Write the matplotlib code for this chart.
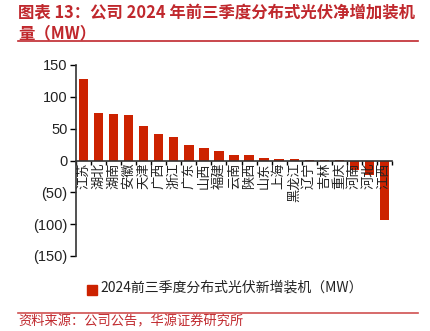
import matplotlib.pyplot as plt
import numpy as np

plt.rcParams['font.family'] = ['Noto Sans CJK SC', 'DejaVu Sans']

provinces = ['江苏', '湖北', '湖南', '安徽', '天津', '广西', '浙江', '广东', '山西', '福建',
             '云南', '陕西', '山东', '上海', '黑龙江', '辽宁', '吉林', '重庆', '河南', '河北', '江西']
values = [128, 75, 73, 72, 54, 42, 37, 24, 19, 15,
          9, 8, 4, 3, 2, 1.5, 1.5, 1.5, -15, -22, -93]
yticks = [150, 100, 50, 0, -50, -100, -150]
ytick_labels = ['150', '100', '50', '0', '(50)', '(100)', '(150)']

red = '#CC2200'
title_red = '#C0282D'

fig = plt.figure(figsize=(4.31, 3.31), dpi=100)
ax = fig.add_axes([76/431, 1-256/331, 316/431, 191/331])

x = np.arange(len(provinces))
ax.bar(x, values, width=0.62, color=red, zorder=2)

ax.set_xlim(-0.5, len(provinces) - 0.5)
ax.set_ylim(-150, 150)
ax.set_yticks(yticks)
ax.set_yticklabels(ytick_labels, fontsize=10.5, color='#222222', family=['Liberation Sans', 'DejaVu Sans'])
ax.tick_params(axis='y', direction='out', length=4, width=1, pad=2)

for s in ['top', 'right']:
    ax.spines[s].set_visible(False)
ax.spines['bottom'].set_position(('data', 0))
ax.spines['left'].set_color('#333333')
ax.spines['bottom'].set_color('#333333')
ax.spines['left'].set_linewidth(1.2)
ax.spines['bottom'].set_linewidth(1.2)

ax.set_xticks(np.arange(len(provinces) + 1) - 0.5)
ax.set_xticklabels([])
ax.tick_params(axis='x', direction='out', length=3, width=1)
for xi, name in zip(x, provinces):
    ax.text(xi, -3, name, rotation=90, ha='center', va='top', fontsize=9.5,
            color='#222222', zorder=3)

# legend
fig.patches.append(plt.Rectangle((87/431, 1-295/331), 10/431, 10/331, color=red,
                                 transform=fig.transFigure))
fig.text(100/431, 1-288/331, '2024前三季度分布式光伏新增装机（MW）', fontsize=10,
         va='center', ha='left', color='#222222')

# title
fig.text(18/431, 1-12/331, '图表 13：公司 2024 年前三季度分布式光伏净增加装机', fontsize=11.8,
         fontweight='bold', color=title_red, va='center', ha='left')
fig.text(18/431, 1-33/331, '量（MW）', fontsize=11.8, fontweight='bold',
         color=title_red, va='center', ha='left')
fig.add_artist(plt.Line2D([18/431, 418/431], [1-41/331, 1-41/331], color=title_red, lw=1.2))
fig.add_artist(plt.Line2D([18/431, 418/431], [1-313/331, 1-313/331], color='#D05050', lw=1.2))
fig.text(18/431, 1-322/331, '资料来源：公司公告，华源证券研究所', fontsize=9.5,
         color=title_red, va='center', ha='left')

fig.savefig('out.png', dpi=100)
